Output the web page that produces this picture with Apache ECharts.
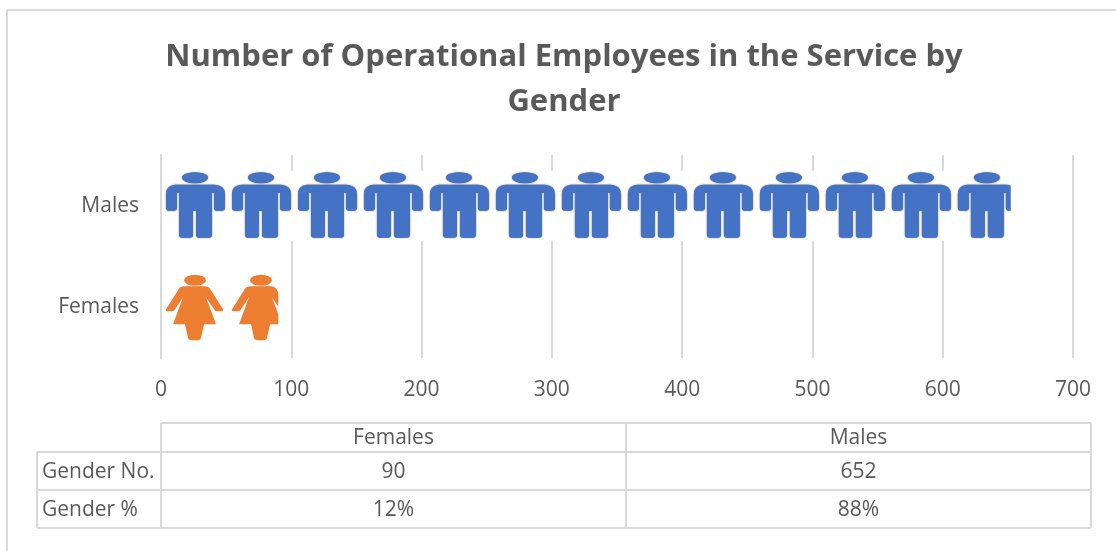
<!DOCTYPE html>
<html>
<head>
<meta charset="utf-8">
<style>html,body{margin:0;padding:0;background:#fff}#chart{width:1116px;height:551px}</style>
<script src="https://cdn.jsdelivr.net/npm/echarts@6/dist/echarts.min.js"></script>
</head>
<body>
<div id="chart"></div>
<script>
const titleText = 'Number of Operational Employees in the Service by\nGender';
const categories = ['Females', 'Males'];
const genderNo = [90, 652];
const genderPct = ['12%', '88%'];
const rowNames = ['Gender No.', 'Gender %'];
const barColors = ['#ed7d31', '#4472c4'];
// one picture stands for this many employees, 13 pictures are laid out
const unitsPerIcon = 50.65;
const iconCount = 13;

// icons are drawn in a 66x70 cell, the two empty subpaths keep the cell size
const cell = 'M0 0L0 0M66 70L66 70';
const manPath = 'path://' + cell + 'M21 7A13 5.5 0 1 1 47 7A13 5.5 0 1 1 21 7Z' +
    'M14 14L54 14Q64 15 64 23L64 37Q64 40 61 40L56 40Q53 40 53 37L53 22L51 22L51 64Q51 67 48 67L38 67Q35 67 35 64L35 40L32 40L32 64Q32 67 29 67L21 67Q18 67 18 64L18 22L16 22L16 37Q16 40 13 40L8 40Q5 40 5 37L5 23Q5 15 14 14Z';
const womanPath = 'path://' + cell + 'M23 8A11 5.5 0 1 1 45 8A11 5.5 0 1 1 23 8Z' +
    'M23 14L44 14Q48 14 50 18L62 37Q63 39 60 39L56 39Q54 39 53 37L45 25L55 52L43 52L40 66Q39 68 37 68L30 68Q28 68 27 66L24 52L12 52L22 25L14 37Q13 39 11 39L7 39Q4 39 5 37L17 18Q19 14 23 14Z';
const icons = [womanPath, manPath];
// the men have a thin dark edge in the picture
const iconShadow = ['rgba(0,0,0,0)', 'rgba(0,0,0,0.65)'];

const font = '"Open Sans"';
const textColor = '#595959';
const lineColor = '#d9d9d9';

// data table layout
const colX = [37, 161, 626, 1091];
const rowY = [423, 452, 490, 528];

function line(x1, y1, x2, y2) {
    return {
        type: 'line',
        shape: {x1: x1, y1: y1, x2: x2, y2: y2},
        style: {stroke: lineColor, lineWidth: 2}
    };
}
function text(str, x, y, align) {
    return {
        type: 'text',
        x: x,
        y: y,
        style: {text: str, fill: textColor, font: '21px ' + font, align: align, verticalAlign: 'middle'}
    };
}

const tableParts = [
    line(7, 10, 1116, 10),
    line(7, 10, 7, 551),
    line(161, rowY[0], 1091, rowY[0]),
    line(37, rowY[1], 1091, rowY[1]),
    line(37, rowY[2], 1091, rowY[2]),
    line(37, rowY[3], 1091, rowY[3]),
    line(37, rowY[1], 37, rowY[3]),
    line(161, rowY[0], 161, rowY[3]),
    line(626, rowY[0], 626, rowY[3]),
    line(1091, rowY[0], 1091, rowY[3])
];
categories.forEach((name, i) => {
    const mid = (colX[i + 1] + colX[i + 2]) / 2;
    tableParts.push(text(name, mid, (rowY[0] + rowY[1]) / 2 + 1, 'center'));
    tableParts.push(text(String(genderNo[i]), mid, (rowY[1] + rowY[2]) / 2 + 1, 'center'));
    tableParts.push(text(genderPct[i], mid, (rowY[2] + rowY[3]) / 2 + 1, 'center'));
});
rowNames.forEach((name, i) => {
    tableParts.push(text(name, 42, (rowY[i + 1] + rowY[i + 2]) / 2 + 1, 'left'));
});

const option = {
    backgroundColor: '#ffffff',
    animation: false,
    title: {
        text: titleText,
        left: 559,
        top: 30,
        textAlign: 'center',
        textStyle: {fontFamily: font, fontSize: 31, fontWeight: 'bold', color: textColor, lineHeight: 45}
    },
    grid: {left: 161, right: 43, top: 155, height: 203},
    xAxis: {
        type: 'value',
        min: 0,
        max: 700,
        interval: 100,
        axisLine: {show: false},
        axisTick: {show: false},
        axisLabel: {fontFamily: font, fontSize: 21, color: textColor, margin: 22},
        splitLine: {lineStyle: {color: lineColor, width: 2}}
    },
    yAxis: {
        type: 'category',
        data: categories,
        z: 5,
        axisLine: {lineStyle: {color: lineColor, width: 2}},
        axisTick: {show: false},
        axisLabel: {fontFamily: font, fontSize: 21, color: textColor, margin: 22}
    },
    graphic: tableParts,
    series: [
        {
            // white backing of the pictures, hides the gridlines
            type: 'bar',
            barWidth: 70,
            silent: true,
            itemStyle: {color: '#ffffff'},
            data: genderNo
        },
        {
            type: 'pictorialBar',
            symbolRepeat: 'fixed',
            symbolClip: true,
            symbolSize: [66, 70],
            symbolMargin: 0,
            symbolBoundingData: unitsPerIcon * iconCount,
            z: 3,
            data: genderNo.map((v, i) => ({
                value: v,
                symbol: icons[i],
                itemStyle: {color: barColors[i], shadowColor: iconShadow[i], shadowBlur: 1.5}
            }))
        }
    ]
};

const myChart = echarts.init(document.getElementById('chart'));
myChart.setOption(option);
</script>
</body>
</html>
